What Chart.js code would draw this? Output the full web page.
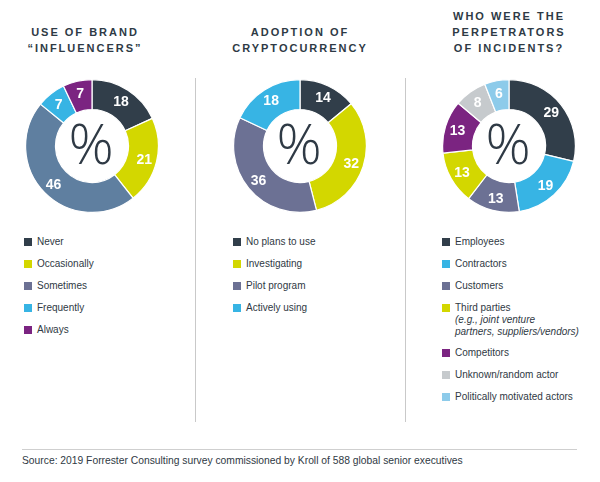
<!DOCTYPE html>
<html>
<head>
<meta charset="utf-8">
<script src="https://cdn.jsdelivr.net/npm/chart.js@4.4.1/dist/chart.umd.min.js"></script>
<style>
  html, body { margin: 0; padding: 0; background: #fff; }
  #page { position: relative; width: 600px; height: 482px; overflow: hidden;
          font-family: "Liberation Sans", Arial, sans-serif; color: #2f3944; }
  .title { position: absolute; width: 190px; text-align: center; font-weight: bold;
           font-size: 11px; line-height: 16px; letter-spacing: 2px; color: #2e3a45; }
  .ring { position: absolute; width: 134px; height: 134px; }
  .legend { position: absolute; font-size: 10px; }
  .item { position: relative; line-height: 12px; margin-bottom: 10px; padding-left: 13px; white-space: nowrap; }
  .item .sw { position: absolute; left: 0; top: 2px; width: 8px; height: 8px; }
  .item .note { font-style: italic; line-height: 11.5px; }
  .vline { position: absolute; width: 1px; top: 78px; height: 344px; background: #c9c9c9; }
  .hline { position: absolute; left: 22px; width: 555px; top: 449px; height: 1px; background: #cfcfcf; }
  .source { position: absolute; left: 22px; top: 454px; font-size: 10.3px; line-height: 14px; color: #2f3944; }
</style>
</head>
<body>
<div id="page">
  <div class="title" style="left:-10px; top:24px">USE OF BRAND<br>“INFLUENCERS”</div>
  <div class="title" style="left:205px; top:24px">ADOPTION OF<br>CRYPTOCURRENCY</div>
  <div class="title" style="left:414px; top:8px">WHO WERE THE<br>PERPETRATORS<br>OF INCIDENTS?</div>

  <canvas id="c1" class="ring" style="left:25px; top:79px"></canvas>
  <canvas id="c2" class="ring" style="left:233px; top:79px"></canvas>
  <canvas id="c3" class="ring" style="left:442px; top:79px"></canvas>

  <div id="l1" class="legend" style="left:24px; top:236px"></div>
  <div id="l2" class="legend" style="left:233px; top:236px"></div>
  <div id="l3" class="legend" style="left:442px; top:236px"></div>

  <div class="vline" style="left:195px"></div>
  <div class="vline" style="left:405px"></div>
  <div class="hline"></div>
  <div class="source">Source: 2019 Forrester Consulting survey commissioned by Kroll of 588 global senior executives</div>
</div>

<script>
// --- data ---
const influencerLabels = ['Never', 'Occasionally', 'Sometimes', 'Frequently', 'Always'];
const influencerValues = [18, 21, 46, 7, 7];

const cryptoLabels = ['No plans to use', 'Investigating', 'Pilot program', 'Actively using'];
const cryptoValues = [14, 32, 36, 18];

const perpetratorLabels = ['Employees', 'Contractors', 'Customers', 'Third parties', 'Competitors', 'Unknown/random actor', 'Politically motivated actors'];
const perpetratorNotes = ['', '', '', '(e.g., joint venture|partners, suppliers/vendors)', '', '', ''];
const perpetratorValues = [29, 19, 13, 13, 13, 8, 6];

// --- colours ---
const navy = '#313e4a', lime = '#d3d700', slate = '#5f7fa0', grape = '#6c7194',
      cyan = '#37b4e4', purple = '#7b2481', grey = '#c6cacd', sky = '#8dcbea';

const influencerColors = [navy, lime, slate, cyan, purple];
const influencerSwatches = [navy, lime, grape, cyan, purple];
const cryptoColors = [navy, lime, grape, cyan];
const perpetratorColors = [navy, cyan, grape, lime, purple, grey, sky];

const ringText = {
  id: 'ringText',
  afterDatasetsDraw(chart) {
    const ctx = chart.ctx;
    const meta = chart.getDatasetMeta(0);
    const values = chart.data.datasets[0].data;
    ctx.save();
    ctx.fillStyle = '#fff';
    ctx.textAlign = 'center';
    ctx.textBaseline = 'middle';
    ctx.font = 'bold 14px "Liberation Sans", Arial, sans-serif';
    meta.data.forEach((arc, i) => {
      const p = arc.getProps(['x', 'y', 'startAngle', 'endAngle', 'innerRadius', 'outerRadius']);
      const a = (p.startAngle + p.endAngle) / 2;
      const r = p.innerRadius + (p.outerRadius - p.innerRadius) * 0.58;
      ctx.fillText(values[i], p.x + Math.cos(a) * r, p.y + Math.sin(a) * r + 1);
    });
    const c = meta.data[0];
    ctx.fillStyle = '#2f3a45';
    ctx.font = '300 56px "Open Sans", Roboto, sans-serif';
    ctx.fillText('%', c.x - 1, c.y + 2);
    ctx.restore();
  }
};

function ring(id, labels, values, colors) {
  new Chart(document.getElementById(id), {
    type: 'doughnut',
    data: {
      labels,
      datasets: [{
        data: values,
        backgroundColor: colors,
        borderColor: '#fff',
        borderWidth: 1.2
      }]
    },
    options: {
      responsive: false,
      animation: false,
      cutout: '55%',
      layout: { padding: 0 },
      plugins: { legend: { display: false }, tooltip: { enabled: false } }
    },
    plugins: [ringText]
  });
}

function legend(id, labels, colors, notes) {
  const box = document.getElementById(id);
  labels.forEach((lab, i) => {
    const it = document.createElement('div');
    it.className = 'item';
    let html = '<span class="sw" style="background:' + colors[i] + '"></span>' + lab;
    if (notes && notes[i]) {
      html += notes[i].split('|').map(t => '<div class="note">' + t + '</div>').join('');
    }
    it.innerHTML = html;
    box.appendChild(it);
  });
}

ring('c1', influencerLabels, influencerValues, influencerColors);
ring('c2', cryptoLabels, cryptoValues, cryptoColors);
ring('c3', perpetratorLabels, perpetratorValues, perpetratorColors);

legend('l1', influencerLabels, influencerSwatches);
legend('l2', cryptoLabels, cryptoColors);
legend('l3', perpetratorLabels, perpetratorColors, perpetratorNotes);
</script>
</body>
</html>
